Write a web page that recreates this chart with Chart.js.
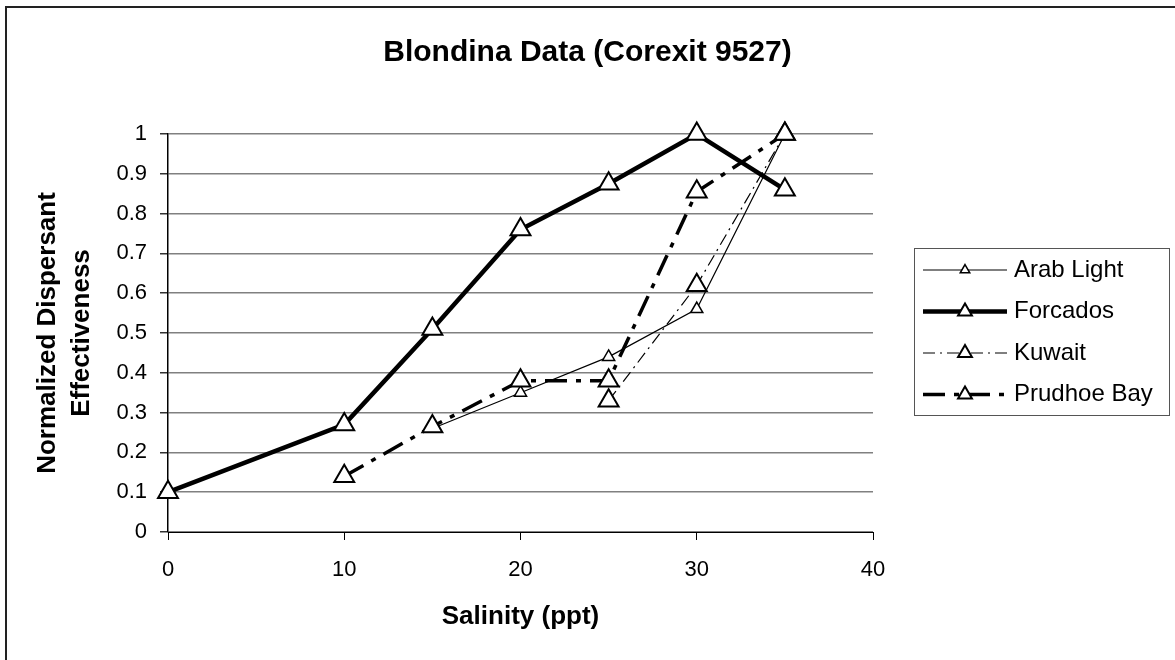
<!DOCTYPE html>
<html>
<head>
<meta charset="utf-8">
<title>Blondina Data (Corexit 9527)</title>
<script src="https://cdn.jsdelivr.net/npm/chart.js@4/dist/chart.umd.min.js"></script>
<style>
  html, body { margin: 0; padding: 0; background: #fff; }
</style>
</head>
<body>
<canvas id="chart" width="1175" height="660"></canvas>
<script>
"use strict";

// salinity (ppt) on the x axis
const salinity = [0, 10, 15, 20, 25, 30, 35];
// normalized effectiveness for each oil, null = not measured
const arabLight  = [null, null, 0.26, 0.35, 0.44, 0.56, 1.0];
const forcados   = [0.10, 0.27, 0.51, 0.76, 0.875, 1.0, 0.86];
const kuwait     = [null, null, null, null, 0.33, 0.62, 1.0];
const prudhoeBay = [null, 0.14, 0.265, 0.38, 0.38, 0.855, 1.0];

const xTicks = [0, 10, 20, 30, 40];
const yTicks = [0, 0.1, 0.2, 0.3, 0.4, 0.5, 0.6, 0.7, 0.8, 0.9, 1];

const FONT = "'Liberation Sans', Arial, sans-serif";

function toPoints(values) {
	let pts = [];
	for (let i = 0; i < salinity.length; i++) {
		if (values[i] !== null) pts.push({ x: salinity[i], y: values[i] });
	}
	return pts;
}

function lineSet(label, values, width, dash, radius, pointWidth, order) {
	return {
		label: label,
		data: toPoints(values),
		borderColor: "#000",
		backgroundColor: "#fff",
		borderWidth: width,
		borderDash: dash,
		pointStyle: "triangle",
		pointRadius: radius,
		pointHoverRadius: radius,
		pointBorderWidth: pointWidth,
		pointBackgroundColor: "#fff",
		pointBorderColor: "#000",
		tension: 0,
		clip: false,
		order: order
	};
}

// frame round the whole picture (only left and top are visible)
const framePlugin = {
	id: "frame",
	beforeDraw(chart) {
		const ctx = chart.ctx;
		ctx.save();
		ctx.fillStyle = "#fff";
		ctx.fillRect(0, 0, chart.width, chart.height);
		ctx.strokeStyle = "#222";
		ctx.lineWidth = 2;
		ctx.beginPath();
		ctx.moveTo(6, chart.height);
		ctx.lineTo(6, 7);
		ctx.lineTo(chart.width, 7);
		ctx.stroke();
		ctx.restore();
	}
};

// legend box on the right, Excel style
const legendPlugin = {
	id: "boxLegend",
	afterDraw(chart) {
		const ctx = chart.ctx;
		const box = { x: 914.5, y: 248.5, w: 255, h: 167 };
		ctx.save();
		ctx.strokeStyle = "#555";
		ctx.lineWidth = 1;
		ctx.strokeRect(box.x, box.y, box.w, box.h);
		chart.data.datasets.forEach(function (ds, i) {
			const y = 270 + i * 41.5;
			ctx.strokeStyle = "#000";
			ctx.lineWidth = ds.borderWidth;
			ctx.setLineDash(ds.borderDash || []);
			ctx.beginPath();
			ctx.moveTo(923, y);
			ctx.lineTo(1007, y);
			ctx.stroke();
			ctx.setLineDash([]);
			const r = ds.pointRadius > 8 ? 8 : 5.5;
			ctx.lineWidth = ds.pointBorderWidth;
			ctx.fillStyle = "#fff";
			ctx.beginPath();
			ctx.moveTo(965, y - r);
			ctx.lineTo(965 + r * 0.866, y + r * 0.5);
			ctx.lineTo(965 - r * 0.866, y + r * 0.5);
			ctx.closePath();
			ctx.fill();
			ctx.stroke();
			ctx.fillStyle = "#000";
			ctx.font = "24px " + FONT;
			ctx.textBaseline = "middle";
			ctx.textAlign = "left";
			ctx.fillText(ds.label, 1014, y);
		});
		ctx.restore();
	}
};

new Chart(document.getElementById("chart").getContext("2d"), {
	type: "line",
	data: {
		datasets: [
			lineSet("Arab Light", arabLight, 1.2, [], 7, 1.5, 4),
			lineSet("Forcados", forcados, 4.5, [], 11.5, 2, 3),
			lineSet("Kuwait", kuwait, 1.2, [12, 5, 2, 5], 11.5, 2, 2),
			lineSet("Prudhoe Bay", prudhoeBay, 3.5, [22, 9, 5, 9], 11.5, 2, 1)
		]
	},
	options: {
		responsive: false,
		animation: false,
		layout: { padding: 0 },
		plugins: {
			legend: { display: false },
			tooltip: { enabled: false },
			title: {
				display: true,
				text: "Blondina Data (Corexit 9527)",
				color: "#000",
				font: { family: FONT, size: 30, weight: "bold" },
				padding: { top: 35, bottom: 63 }
			}
		},
		scales: {
			x: {
				type: "linear",
				min: 0,
				max: 40,
				afterBuildTicks(scale) {
					scale.ticks = xTicks.map(v => ({ value: v }));
				},
				afterFit(scale) { scale.height = 128; },
				ticks: {
					color: "#000",
					font: { family: FONT, size: 22 },
					padding: 17,
					maxRotation: 0
				},
				grid: {
					drawOnChartArea: false,
					drawTicks: true,
					tickLength: 8,
					tickColor: "#000"
				},
				border: { color: "#000", width: 1 },
				title: {
					display: true,
					text: "Salinity (ppt)",
					color: "#000",
					font: { family: FONT, size: 26, weight: "bold" },
					padding: { top: 0, bottom: 28 }
				}
			},
			y: {
				min: 0,
				max: 1,
				afterBuildTicks(scale) {
					scale.ticks = yTicks.map(v => ({ value: v }));
				},
				afterFit(scale) { scale.width = 168; },
				ticks: {
					color: "#000",
					font: { family: FONT, size: 22 },
					padding: 13,
					callback: v => String(Math.round(v * 10) / 10)
				},
				grid: {
					color: "#808080",
					lineWidth: 1.5,
					drawTicks: true,
					tickLength: 8,
					tickColor: "#333"
				},
				border: { color: "#000", width: 1.5 },
				title: {
					display: true,
					text: ["Normalized Dispersant", "Effectiveness"],
					color: "#000",
					font: { family: FONT, size: 26, weight: "bold", lineHeight: 1.3 },
					padding: { top: 31, bottom: 0 }
				}
			},
			// empty axis on the right that keeps room for the legend box
			room: {
				type: "linear",
				position: "right",
				display: true,
				afterFit(scale) { scale.width = 302; },
				ticks: { display: false },
				grid: { display: false },
				border: { display: false }
			}
		}
	},
	plugins: [framePlugin, legendPlugin]
});
</script>
</body>
</html>
